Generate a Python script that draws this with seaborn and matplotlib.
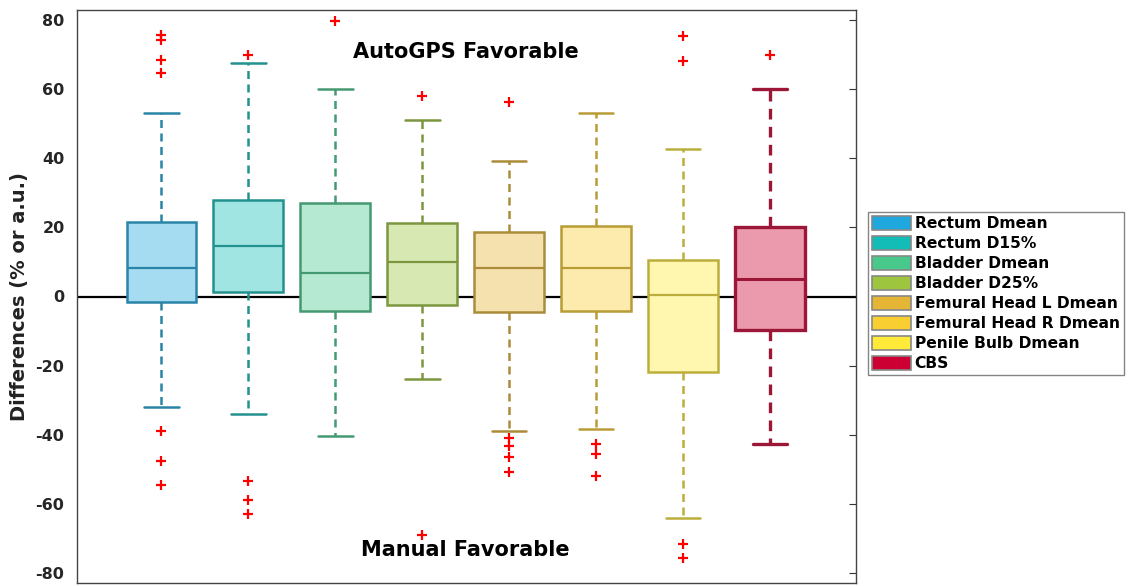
import numpy as np
import pandas as pd
import matplotlib
matplotlib.use("Agg")
import matplotlib.pyplot as plt
from matplotlib.patches import Patch
import seaborn as sns

# structures (one box each)
labels = ["Rectum Dmean", "Rectum D15%", "Bladder Dmean", "Bladder D25%",
          "Femural Head L Dmean", "Femural Head R Dmean", "Penile Bulb Dmean", "CBS"]

# box statistics
whislo = [-32.0, -34.0, -40.3, -24.0, -38.8, -38.2, -64.2, -42.8]
q1 = [-1.7, 1.2, -4.3, -2.5, -4.4, -4.2, -21.8, -9.8]
med = [8.2, 14.5, 6.8, 10.0, 8.2, 8.2, 0.3, 5.0]
q3 = [21.5, 28.0, 27.0, 21.3, 18.6, 20.3, 10.7, 20.0]
whishi = [53.0, 67.5, 60.0, 51.0, 39.2, 53.2, 42.8, 60.0]

# outliers per box
fliers = [
    [75.8, 74.2, 68.5, 64.8, -39.0, -47.5, -54.5],
    [69.8, -53.5, -59.0, -63.0],
    [79.6],
    [58.0, -69.0],
    [56.3, -40.8, -43.3, -46.5, -50.9],
    [-42.8, -45.7, -51.9],
    [75.3, 68.2, -71.5, -75.6],
    [69.8],
]

base_colors = ["#1FA8DE", "#13BDB7", "#48C98B", "#9DC63E",
               "#E5B535", "#F8CE30", "#FFEA3A", "#CC0033"]

sns.set_style("white")
plt.rcParams["font.family"] = ["DejaVu Sans"]
plt.rcParams["font.weight"] = "bold"
plt.rcParams["axes.unicode_minus"] = False

palette = sns.color_palette(base_colors)


def mix(c, other, t):
    return tuple((1 - t) * np.array(c) + t * np.array(other))


fig = plt.figure(figsize=(11.32, 5.86), dpi=100)
ax = fig.add_axes([77 / 1132, 3 / 586, 779 / 1132, 573 / 586])

positions = np.arange(1, len(labels) + 1)
stats = []
for i, lab in enumerate(labels):
    stats.append(dict(label=lab, whislo=whislo[i], q1=q1[i], med=med[i],
                      q3=q3[i], whishi=whishi[i], fliers=[]))

for i, s in enumerate(stats):
    c = palette[i]
    edge = mix(c, (0.25, 0.25, 0.25), 0.35)
    face = mix(c, (1, 1, 1), 0.6)
    lw = 2.4 if i == 7 else 1.8
    ax.bxp([s], positions=[positions[i]], widths=0.8, capwidths=0.4,
           patch_artist=True, showfliers=False,
           boxprops=dict(facecolor=face, edgecolor=edge, linewidth=lw),
           medianprops=dict(color=edge, linewidth=1.6 if i != 7 else 2.2),
           whiskerprops=dict(color=edge, linewidth=lw, linestyle=(0, (3.2, 2.2))),
           capprops=dict(color=edge, linewidth=lw))

# outliers through seaborn
rows = []
for i, vals in enumerate(fliers):
    for v in vals:
        rows.append((positions[i], v))
out_df = pd.DataFrame(rows, columns=["pos", "value"])
sns.scatterplot(data=out_df, x="pos", y="value", marker="+", color="red",
                s=60, linewidth=1.6, ax=ax, zorder=5)

ax.axhline(0, color="black", linewidth=1.6, zorder=1.5)

ax.set_xlim(0.03, 8.99)
ax.set_ylim(-82.9, 82.9)
ax.set_yticks(np.arange(-80, 81, 20))
ax.set_xticks([])
ax.set_xlabel("")
ax.set_ylabel("Differences (% or a.u.)", fontsize=14, fontweight="bold",
              labelpad=5, color="#222222")
ax.tick_params(axis="y", direction="in", right=True, length=5, labelsize=11.5,
               pad=9, colors="#333333", labelcolor="#262626")
for lbl in ax.get_yticklabels():
    lbl.set_fontweight("bold")
for sp in ax.spines.values():
    sp.set_color("#444444")
    sp.set_linewidth(1.0)

ax.text(4.5, 70.8, "AutoGPS Favorable", ha="center", va="center",
        fontsize=15, fontweight="bold", color="black")
ax.text(4.5, -73.4, "Manual Favorable", ha="center", va="center",
        fontsize=15, fontweight="bold", color="black")

handles = [Patch(facecolor=palette[i], edgecolor="#888888", linewidth=1.2, label=lab)
           for i, lab in enumerate(labels)]
leg = fig.legend(handles=handles, loc="upper left",
                 bbox_to_anchor=(868 / 1132, 1 - 212 / 586),
                 prop=dict(size=11.2, weight="bold"), frameon=True, fancybox=False,
                 borderaxespad=0, borderpad=0.25, labelspacing=0.3,
                 handlelength=2.5, handleheight=1.0, handletextpad=0.25)
leg.get_frame().set_edgecolor("#666666")
leg.get_frame().set_linewidth(1.0)
for t in leg.get_texts():
    t.set_color("black")

fig.savefig("out.png", dpi=100)
